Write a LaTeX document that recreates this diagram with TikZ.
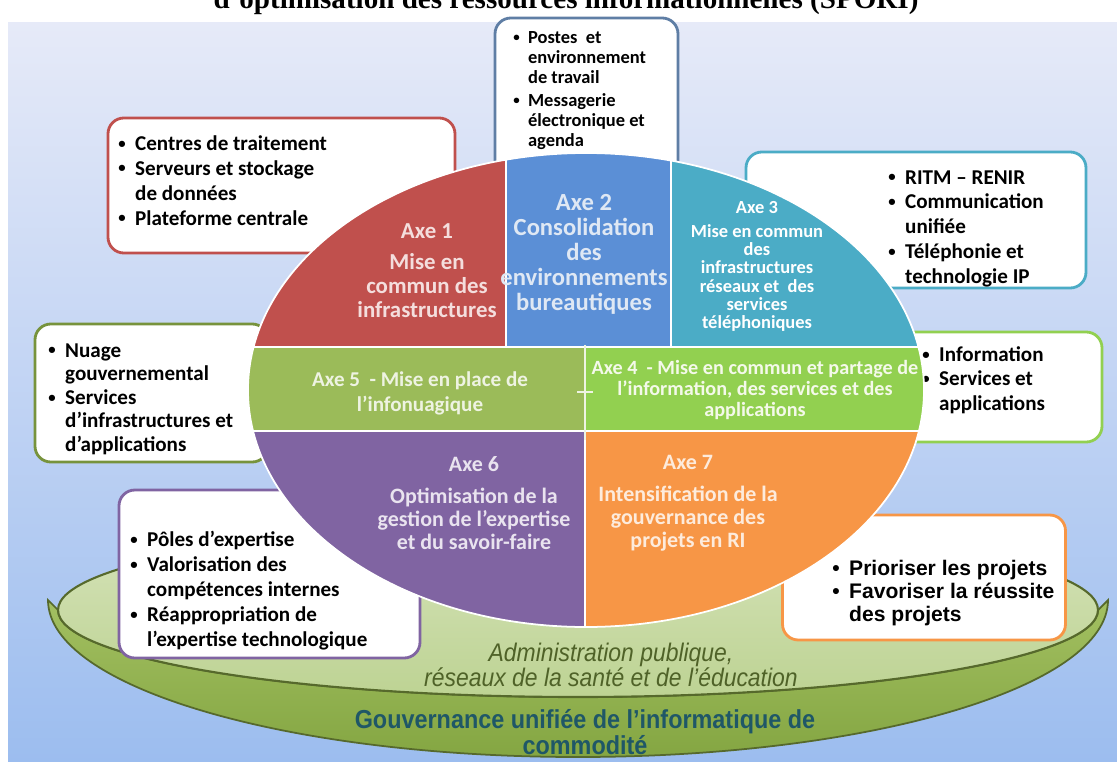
\documentclass[tikz,border=0pt]{standalone}
\usepackage{fontspec}
\setmainfont{Carlito}
\newfontfamily\arialfont{Liberation Sans}
\newfontfamily\narrowfont[FakeStretch=0.9]{Liberation Sans}
\newfontfamily\titlefont{Liberation Serif}
\usepackage{tikz}
\usetikzlibrary{positioning,calc}
\definecolor{bgtop}{HTML}{E6EAF8}
\definecolor{bgbot}{HTML}{9CBDEF}
\definecolor{plattop}{HTML}{D6E3BA}
\definecolor{platbot}{HTML}{BDD393}
\definecolor{sidetop}{HTML}{A3C062}
\definecolor{sidebot}{HTML}{84A642}
\definecolor{rim}{HTML}{56692C}
\definecolor{axeA}{HTML}{C0504D}
\definecolor{axeB}{HTML}{5B8FD6}
\definecolor{axeC}{HTML}{4BACC6}
\definecolor{axeD}{HTML}{92D050}
\definecolor{axeE}{HTML}{9BBB59}
\definecolor{axeF}{HTML}{8064A2}
\definecolor{axeG}{HTML}{F79646}
\definecolor{lineB}{HTML}{5F7EA5}
\definecolor{lineE}{HTML}{77933C}
\definecolor{txtA}{HTML}{F4DEDD}
\definecolor{txtB}{HTML}{DFE8F4}
\definecolor{txtD}{HTML}{F4F9EA}
\definecolor{txtE}{HTML}{EEF3E2}
\definecolor{txtF}{HTML}{E9E3EF}
\definecolor{txtG}{HTML}{FDEBDC}
\definecolor{admintxt}{HTML}{4F6228}
\definecolor{govtxt}{HTML}{1F5767}
\newcommand{\bul}{\makebox[0.8em][l]{\raisebox{0.1em}{\scalebox{0.7}{\textbullet}}}}
\newcommand{\bulA}{\makebox[0.8em][l]{\textbullet}}
\newcommand{\hang}{\hspace*{0.8em}}

\begin{document}
\begin{tikzpicture}[
  callout/.style={draw, line width=1.6pt, rounded corners=9pt, fill=white, inner sep=0pt},
  items/.style={anchor=north west, align=left, inner sep=0pt, font=\fontsize{12}{14.2}\selectfont\bfseries},
  axetext/.style={align=center, inner sep=0pt},
  sep/.style={white, line width=1.3pt}
]
  \useasboundingbox (0,0) rectangle (22.34,-15.24);
  \clip (0,0) rectangle (22.34,-15.24);

  % background
  \shade[top color=bgtop, bottom color=bgbot] (0.16,-0.44) rectangle (22.34,-15.24);
  \node[anchor=base, inner sep=0pt] (title) at (11.32,-0.18)
    {\resizebox{14.1cm}{!}{\titlefont\bfseries d’optimisation des ressources informationnelles (SPORI)}};

  % platform
  \shade[top color=sidetop, bottom color=sidebot, draw=rim, line width=1pt]
    (1.16,-12.20) -- (0.96,-12.00) arc[start angle=180, end angle=360, x radius=10.60, y radius=3.14]
    -- (21.96,-12.20) arc[start angle=0, end angle=-180, x radius=10.40, y radius=1.74] -- cycle;
  \shade[top color=plattop, bottom color=platbot, draw=rim, line width=1.2pt] (11.56,-12.20) ellipse (10.40 and 1.74);

  % callouts
  \node[callout, draw=axeA, minimum width=6.94cm, minimum height=2.70cm] (box1) at (5.63,-3.71) {};
  \node[items] (list1) at (2.36,-2.70) {\bul Centres de traitement\\ \bul Serveurs et stockage\\ \hang de données\\ \bul Plateforme centrale};

  \node[callout, draw=lineB, minimum width=3.66cm, minimum height=3.64cm] (box2) at (11.73,-2.18) {};
  \node[items, font=\fontsize{10.5}{11.4}\selectfont\bfseries] (list2) at (10.26,-0.62)
    {\bul Postes\ \ et\\ \hang environnement\\ \hang de travail\\[1.5pt] \bul Messagerie\\ \hang électronique et\\ \hang agenda};

  \node[callout, draw=axeC, minimum width=6.80cm, minimum height=2.72cm] (box3) at (18.32,-4.40) {};
  \node[items] (list3) at (17.76,-3.40)
    {\bul RITM – RENIR\\ \bul Communication\\ \hang unifiée\\ \bul Téléphonie et\\ \hang technologie IP};

  \node[callout, draw=axeD, minimum width=4.04cm, minimum height=2.20cm] (box4) at (20.02,-7.74) {};
  \node[items, font=\fontsize{12}{14}\selectfont\bfseries] (list4) at (18.44,-6.92)
    {\bul Information\\ \bul Services et\\ \hang applications};

  \node[callout, draw=lineE, minimum width=4.66cm, minimum height=2.76cm] (box5) at (3.03,-7.86) {};
  \node[items, font=\fontsize{12}{13.4}\selectfont\bfseries] (list5) at (0.96,-6.86)
    {\bul Nuage\\ \hang gouvernemental\\ \bul Services\\ \hang d’infrastructures et\\ \hang d’applications};

  \node[callout, draw=axeF, minimum width=6.02cm, minimum height=3.36cm] (box6) at (5.39,-11.48) {};
  \node[items] (list6) at (2.60,-10.62)
    {\bul Pôles d’expertise\\ \bul Valorisation des\\ \hang compétences internes\\ \bul Réappropriation de\\ \hang l’expertise technologique};

  \node[callout, draw=axeG, minimum width=5.66cm, minimum height=2.50cm] (box7) at (18.48,-11.55) {};
  \node[items, font=\arialfont\fontsize{12}{13.1}\selectfont\bfseries] (list7) at (16.64,-11.20)
    {\bulA Prioriser les projets\\ \bulA Favoriser la réussite\\ \hang des projets};

  % central oval
  \begin{scope}
    \clip (11.72,-7.80) ellipse (6.76 and 4.74);
    \fill[axeA] (4.9,-2.9) rectangle (10.12,-6.94);
    \fill[axeB] (10.12,-2.9) rectangle (13.42,-6.94);
    \fill[axeC] (13.42,-2.9) rectangle (18.6,-6.94);
    \fill[axeE] (4.9,-6.94) rectangle (11.70,-8.62);
    \fill[axeD] (11.70,-6.94) rectangle (18.6,-8.62);
    \fill[axeF] (4.9,-8.62) rectangle (11.70,-12.6);
    \fill[axeG] (11.70,-8.62) rectangle (18.6,-12.6);
    \draw[sep] (10.12,-2.9) -- (10.12,-6.94);
    \draw[sep] (13.42,-2.9) -- (13.42,-6.94);
    \draw[sep] (4.9,-6.94) -- (18.6,-6.94);
    \draw[sep] (4.9,-8.62) -- (18.6,-8.62);
    \draw[sep] (11.70,-8.62) -- (11.70,-12.6);
  \end{scope}
  \draw[white, line width=1pt] (11.72,-7.80) ellipse (6.76 and 4.74);
  \draw[txtE, line width=1.6pt] (11.70,-6.90) -- (11.70,-8.80);
  \draw[txtE, line width=1.6pt] (11.54,-7.84) -- (11.86,-7.84);

  % axis labels
  \node[axetext, text=txtA, font=\fontsize{13}{13.6}\selectfont\bfseries] (axe1) at (8.54,-5.42)
    {Axe 1\\[4pt] Mise en\\ commun des\\ infrastructures};
  \node[axetext, text=txtB, font=\fontsize{14}{14.2}\selectfont\bfseries] (axe2) at (11.68,-5.08)
    {Axe 2\\ Consolidation\\ des\\ environnements\\ bureautiques};
  \node[axetext, text=white, font=\fontsize{10.5}{10.4}\selectfont\bfseries] (axe3) at (15.14,-5.33)
    {Axe 3\\[3pt] Mise en commun\\ des\\ infrastructures\\ réseaux et\ \ des\\ services\\ téléphoniques};
  \node[axetext, text=txtD, font=\fontsize{11.5}{12.2}\selectfont\bfseries] (axe4) at (15.10,-7.80)
    {Axe 4\ \ - Mise en commun et partage de\\ l’information, des services et des\\ applications};
  \node[axetext, text=txtE, font=\fontsize{12}{14}\selectfont\bfseries] (axe5) at (8.40,-7.87)
    {Axe 5\ \ - Mise en place de\\ l’infonuagique};
  \node[axetext, text=txtF, font=\fontsize{12.5}{13.2}\selectfont\bfseries] (axe6) at (9.48,-10.06)
    {Axe 6\\[5pt] Optimisation de la\\ gestion de l’expertise\\ et du savoir-faire};
  \node[axetext, text=txtG, font=\fontsize{12.5}{13.2}\selectfont\bfseries] (axe7) at (13.76,-10.07)
    {Axe 7\\[5pt] Intensification de la\\ gouvernance des\\ projets en RI};

  % platform labels
  \node[axetext, text=admintxt, font=\narrowfont\fontsize{14.5}{13.8}\selectfont\itshape] (admin) at (12.22,-13.30)
    {Administration publique,\\ réseaux de la santé et de l’éducation};
  \node[axetext, text=govtxt, font=\narrowfont\fontsize{14.8}{13.2}\selectfont\bfseries] (gov) at (11.70,-14.64)
    {Gouvernance unifiée de l’informatique de\\ commodité};
\end{tikzpicture}
\end{document}
